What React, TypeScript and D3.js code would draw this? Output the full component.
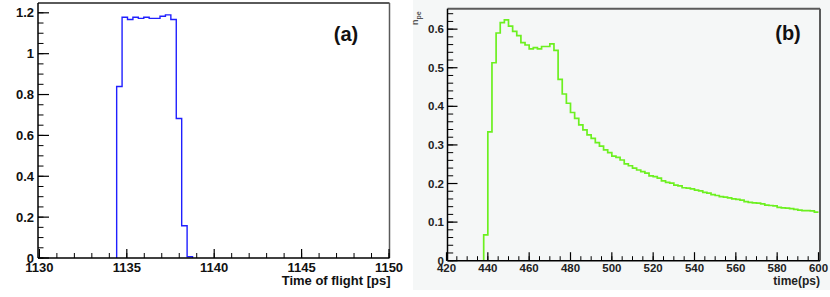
import React from "react";
import * as d3 from "d3";

// Panel (a): time of flight histogram
const aBinStart = 1134.42;
const aBinWidth = 0.31;
const aValues = [0.839, 1.178, 1.167, 1.178, 1.173, 1.178, 1.173, 1.173, 1.183, 1.19, 1.167, 0.683, 0.158, 0.006];
const aXTicks = [1130, 1135, 1140, 1145, 1150];
const aYTicks = [0, 0.2, 0.4, 0.6, 0.8, 1, 1.2];

// Panel (b): n_pe vs time
const bBinStart = 438;
const bBinWidth = 2;
const bValues = [
  0.067, 0.334, 0.513, 0.59, 0.617, 0.624, 0.608, 0.594, 0.583, 0.565, 0.559, 0.549,
  0.552, 0.549, 0.555, 0.555, 0.562, 0.545, 0.47, 0.432, 0.408, 0.384, 0.369, 0.352,
  0.339, 0.326, 0.317, 0.306, 0.297, 0.287, 0.28, 0.271, 0.268, 0.261,
  0.251, 0.246, 0.24, 0.235, 0.231, 0.227, 0.22, 0.218, 0.214, 0.207,
  0.203, 0.201, 0.196, 0.194, 0.189, 0.188, 0.186, 0.183, 0.181, 0.177,
  0.175, 0.171, 0.169, 0.166, 0.165, 0.163, 0.16, 0.159, 0.157, 0.153,
  0.151, 0.15, 0.149, 0.147, 0.144, 0.143, 0.142, 0.138, 0.137, 0.136,
  0.135, 0.133, 0.131, 0.13, 0.13, 0.129, 0.126,
];
const bXTicks = [420, 440, 460, 480, 500, 520, 540, 560, 580, 600];
const bYTicks = [0, 0.1, 0.2, 0.3, 0.4, 0.5, 0.6];

const FONT = "'Liberation Sans', Arial, Helvetica, sans-serif";

function stepPoints(start: number, width: number, values: number[], closeEnd: boolean) {
  const pts: [number, number][] = [[start, 0]];
  values.forEach((v, i) => {
    pts.push([start + i * width, v]);
    pts.push([start + (i + 1) * width, v]);
  });
  if (closeEnd) pts.push([start + values.length * width, 0]);
  return pts;
}

function range(a: number, b: number, step: number) {
  const out: number[] = [];
  for (let v = a; v <= b + 1e-9; v += step) out.push(+v.toFixed(6));
  return out;
}

export default function App() {
  // Panel a scales
  const xA = d3.scaleLinear().domain([1130, 1150]).range([39.4, 389]);
  const yA = d3.scaleLinear().domain([0, 1.248]).range([258, 3]);
  // Panel b scales
  const xB = d3.scaleLinear().domain([420, 600]).range([446.5, 818.5]);
  const yB = d3.scaleLinear().domain([0, 0.653]).range([260.7, 8.7]);

  const lineA = d3.line<[number, number]>().x((d) => xA(d[0])).y((d) => yA(d[1]));
  const lineB = d3.line<[number, number]>().x((d) => xB(d[0])).y((d) => yB(d[1]));

  const aPath = lineA(stepPoints(aBinStart, aBinWidth, aValues, true)) || "";
  const bPath = lineB(stepPoints(bBinStart, bBinWidth, bValues, false)) || "";

  const aMinorY = range(0, 1.245, 0.05);
  const aMinorX = range(1130, 1150, 1);
  const bMinorY = range(0, 0.652, 0.02);
  const bMinorX = range(420, 600, 5);

  const aLeft = 38, aRight = 389.5, aTop = yA(1.248), aBottom = yA(0);
  const bLeft = 447.5, bRight = 820, bTop = yB(0.653), bBottom = yB(0);

  return (
    <svg
      width={830}
      height={297}
      style={{ position: "absolute", left: 0, top: 0, background: "#ffffff" }}
      fontFamily={FONT}
    >
      {/* Panel (a) */}
      <rect x={0} y={0} width={412} height={297} fill="#ffffff" />
      <path d={aPath} fill="none" stroke="#1f1fff" strokeWidth={1.4} />
      {/* frame */}
      <line x1={aLeft} x2={aRight} y1={aTop} y2={aTop} stroke="#5a5a5a" strokeWidth={2} />
      <line x1={aRight} x2={aRight} y1={aTop} y2={aBottom} stroke="#5a5a5a" strokeWidth={1.5} />
      <line x1={aLeft} x2={aLeft} y1={aTop} y2={aBottom} stroke="#000" strokeWidth={1.5} />
      <line x1={aLeft} x2={aRight} y1={aBottom} y2={aBottom} stroke="#000" strokeWidth={1.5} />
      {aMinorY.map((v) => (
        <line key={"ay" + v} x1={aLeft} x2={aLeft + 5.5} y1={yA(v)} y2={yA(v)} stroke="#000" strokeWidth={1} />
      ))}
      {aYTicks.map((v) => (
        <g key={"aY" + v}>
          <line x1={aLeft} x2={aLeft + 11} y1={yA(v)} y2={yA(v)} stroke="#000" strokeWidth={1.2} />
          <text x={34} y={yA(v)} dy="0.36em" textAnchor="end" fontSize={13} fontWeight="bold" fill="#111">
            {d3.format("")(v)}
          </text>
        </g>
      ))}
      {aMinorX.map((v) => (
        <line key={"ax" + v} x1={xA(v)} x2={xA(v)} y1={aBottom} y2={aBottom - 5} stroke="#000" strokeWidth={1} />
      ))}
      {aXTicks.map((v) => (
        <g key={"aX" + v}>
          <line x1={xA(v)} x2={xA(v)} y1={aBottom} y2={aBottom - 9} stroke="#000" strokeWidth={1.2} />
          <text x={xA(v)} y={272} textAnchor="middle" fontSize={13} fontWeight="bold" fill="#111">
            {v}
          </text>
        </g>
      ))}
      <text x={390.5} y={285} textAnchor="end" fontSize={13} fontWeight="bold" fill="#111">
        Time of flight [ps]
      </text>
      <text x={346} y={41} textAnchor="middle" fontSize={20} fontWeight="bold" fill="#111">
        (a)
      </text>

      {/* Panel (b) */}
      <rect x={413} y={0} width={417} height={290} fill="#f5f7f7" />
      <path d={bPath} fill="none" stroke="#6cf020" strokeWidth={1.7} />
      <line x1={bLeft} x2={bRight} y1={bTop} y2={bTop} stroke="#5a5a5a" strokeWidth={2} />
      <line x1={bRight} x2={bRight} y1={bTop} y2={bBottom} stroke="#5a5a5a" strokeWidth={2} />
      <line x1={bLeft} x2={bLeft} y1={bTop} y2={bBottom} stroke="#000" strokeWidth={1.5} />
      <line x1={bLeft} x2={bRight} y1={bBottom} y2={bBottom} stroke="#000" strokeWidth={1.5} />
      {bMinorY.map((v) => (
        <line key={"by" + v} x1={bLeft} x2={bLeft + 5.7} y1={yB(v)} y2={yB(v)} stroke="#000" strokeWidth={1} />
      ))}
      {bYTicks.map((v) => (
        <g key={"bY" + v}>
          <line x1={bLeft} x2={bLeft + 10} y1={yB(v)} y2={yB(v)} stroke="#000" strokeWidth={1.2} />
          <text x={444} y={yB(v)} dy="0.36em" textAnchor="end" fontSize={11.5} fontWeight="bold" fill="#222">
            {d3.format("")(v)}
          </text>
        </g>
      ))}
      {bMinorX.map((v) => (
        <line key={"bx" + v} x1={xB(v)} x2={xB(v)} y1={bBottom} y2={bBottom - 4.5} stroke="#000" strokeWidth={1} />
      ))}
      {bXTicks.map((v) => (
        <g key={"bX" + v}>
          <line x1={xB(v)} x2={xB(v)} y1={bBottom} y2={bBottom - 8.5} stroke="#000" strokeWidth={1.2} />
          <text x={xB(v)} y={271.5} textAnchor="middle" fontSize={11.5} fontWeight="bold" fill="#222">
            {v}
          </text>
        </g>
      ))}
      <text x={820} y={285} textAnchor="end" fontSize={12} fontWeight="bold" fill="#222">
        time(ps)
      </text>
      <text transform="translate(418,25) rotate(-90)" fontSize={9} fontWeight="bold" fill="#555">
        n<tspan fontSize={7} dy={3}>pe</tspan>
      </text>
      <text x={788} y={40} textAnchor="middle" fontSize={20} fontWeight="bold" fill="#111">
        (b)
      </text>
    </svg>
  );
}
